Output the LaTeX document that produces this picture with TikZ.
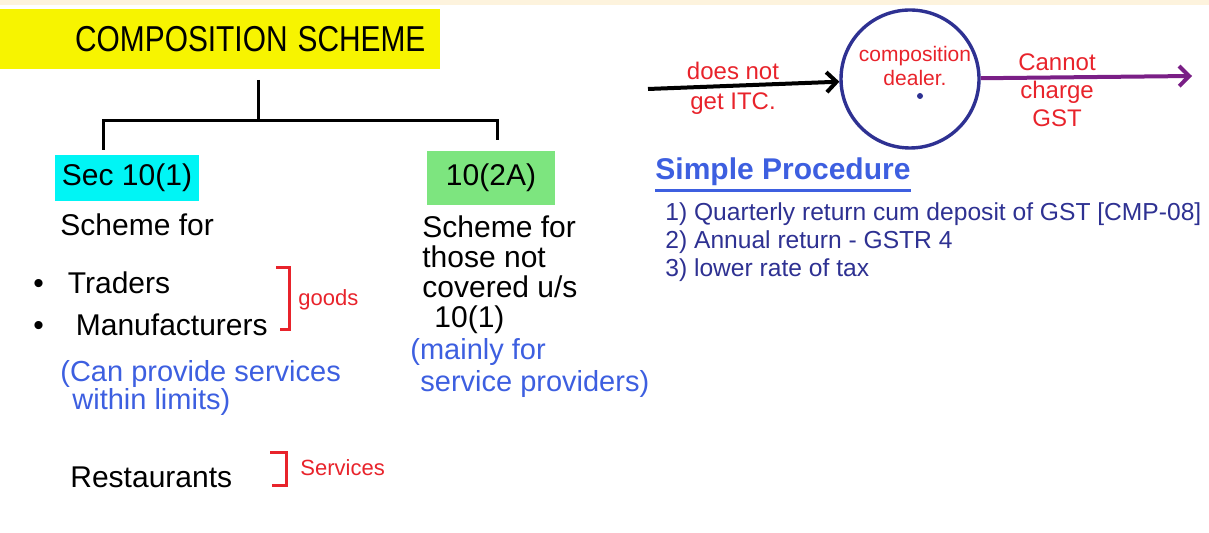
\documentclass[tikz,border=0pt]{standalone}
\usepackage{fontspec}
\setmainfont{Liberation Sans}
\usetikzlibrary{arrows.meta, positioning}

\definecolor{hiyellow}{HTML}{F7F400}
\definecolor{hicyan}{HTML}{00F5F5}
\definecolor{higreen}{HTML}{7DE57F}
\definecolor{notered}{HTML}{E8232B}
\definecolor{penblue}{HTML}{3D5FE0}
\definecolor{inknavy}{HTML}{2E3192}
\definecolor{inkpurple}{HTML}{7A1F86}
\definecolor{paper}{HTML}{FDF3DD}

\begin{document}
\begin{tikzpicture}[
    x=0.5pt, y=-0.5pt,
    tagbox/.style = {inner sep=0pt, font=\fontsize{15}{15}\selectfont},
    ink/.style = {anchor=west, inner sep=0pt, align=left, font=\fontsize{15}{15}\selectfont},
    note/.style = {inner sep=0pt, align=center, text=notered, font=\fontsize{11}{14}\selectfont},
    aside/.style = {ink, text=penblue, font=\fontsize{14.5}{14}\selectfont},
    proc/.style = {ink, text=inknavy, font=\fontsize{12.3}{14}\selectfont},
    branch/.style = {line width=1.5pt, black},
    brack/.style = {line width=1.5pt, notered},
    flow/.style = {line width=2pt, -{Straight Barb[length=5pt, width=10pt, line width=2pt]}}
]

\useasboundingbox (0,0) rectangle (1209,533);
\fill[paper] (0,0) rectangle (1209,5);

% title and the two sections
\node [tagbox, fill=hiyellow, minimum width=220pt, minimum height=30pt, text width=205pt, align=right,
       anchor=north west, font=\fontsize{18}{18}\selectfont] (title) at (0,9) {\scalebox{0.83}[1]{COMPOSITION SCHEME}};
\node [tagbox, fill=hicyan, minimum width=72pt, minimum height=23pt] (sec1) at (127,178) {Sec 10(1)};
\node [tagbox, fill=higreen, minimum width=64pt, minimum height=27pt] (sec2a) at (491,178) {10(2A)};

\coordinate (fork) at (258,121);
\coordinate (dropl) at (103,150);
\coordinate (dropr) at (497,140);

\draw [branch, shorten <=5pt] (title.south -| fork) -- (fork);
\draw [branch] (dropl) |- (fork) -| (dropr);

% section 10(1)
\node [ink] (schemefor) at (60,225) {Scheme for};
\node [ink] (traders) at (33,283) {\textbullet\hspace{12pt}Traders};
\node [ink] (manuf) at (33,325) {\textbullet\hspace{16pt}Manufacturers};
\node [note, anchor=west] (goods) at (298,300) {goods};
\node [aside, anchor=north west] (canprov) at (60,360) {(Can provide services\\\hspace*{6pt}within limits)};
\node [ink] (rest) at (70,477) {Restaurants};
\node [note, anchor=west] (servs) at (300,468) {Services};

\draw [brack] (276,268) -- (289,268) -- (289,330) -- (280,330);
\draw [brack] (270,453) -- (286,453) -- (286,486) -- (272,486);

% section 10(2A)
\node [ink, anchor=north west] (those) at (422,215) {Scheme for\\those not\\covered u/s\\\hspace*{6pt}10(1)};
\node [aside, anchor=north west, font=\fontsize{14.5}{16}\selectfont] (mainly) at (410,338) {(mainly for\\\hspace*{5pt}service providers)};

% dealer
\node [circle, draw=inknavy, line width=1.7pt, minimum size=69pt, inner sep=0pt] (dealer) at (910,79) {};
\node [note, font=\fontsize{10.5}{12}\selectfont] (dealername) at (915,66) {composition\\dealer.};
\fill [inknavy] (920,96) circle (3);

\coordinate (itcin) at (648,89);
\coordinate (gstout) at (1192,76);
\draw [flow] (itcin) -- (dealer);
\draw [flow, inkpurple] (dealer) -- (gstout);

\node [note, font=\fontsize{12}{15}\selectfont] (noitc) at (733,88) {does not\\get ITC.};
\node [note, font=\fontsize{12}{14}\selectfont] (nogst) at (1057,90) {Cannot\\charge\\GST};

% procedure
\node [ink, text=penblue, font=\fontsize{15}{15}\bfseries] (simple) at (655,172) {Simple Procedure};
\draw [penblue, line width=1.5pt] ([yshift=-2pt]simple.south west) -- ([yshift=-2pt]simple.south east);
\node [proc, anchor=north west] (steps) at (665,202) {1) Quarterly return cum deposit of GST [CMP-08]\\2) Annual return - GSTR 4\\3) lower rate of tax};

\end{tikzpicture}
\end{document}
